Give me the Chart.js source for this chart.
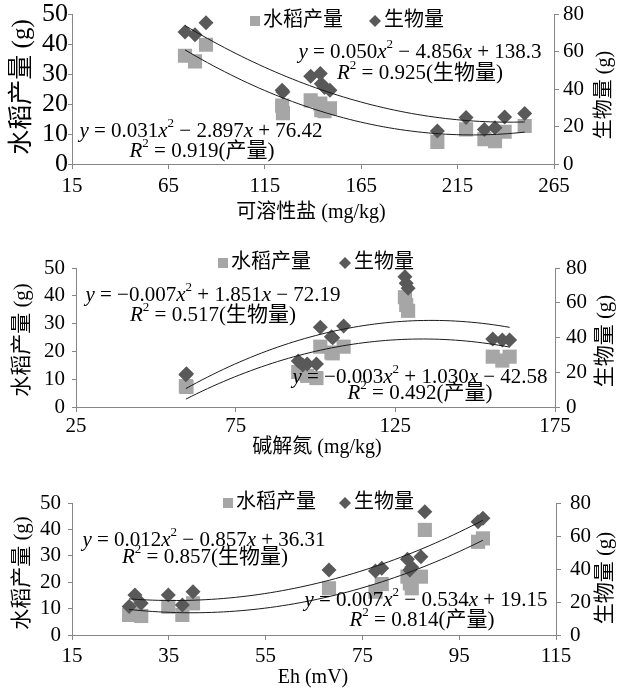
<!DOCTYPE html>
<html>
<head>
<meta charset="utf-8">
<script src="https://cdn.jsdelivr.net/npm/chart.js@4.4.1/dist/chart.umd.min.js"></script>
<style>
  body { margin: 0; background: #fff; width: 617px; height: 691px; overflow: hidden; }
  canvas { display: block; }
</style>
</head>
<body>
<canvas id="c1" width="617" height="230"></canvas>
<canvas id="c2" width="617" height="230"></canvas>
<canvas id="c3" width="617" height="231"></canvas>
<script>
// same 16 samples in every panel, some markers sit on top of each other
// panel 1 : 可溶性盐
var saltX    = [73.6, 78.8, 84.5, 124.0, 124.4, 138.8, 143.8, 144.3, 146.0, 148.8, 204.5, 219.4, 228.9, 234.4, 239.4, 249.8];
var saltRice = [36.2, 34.3, 39.9, 19.5, 17.0, 21.3, 20.2, 18.0, 17.7, 18.6, 7.4, 11.6, 8.3, 7.6, 10.8, 12.7];
var saltBio  = [70.6, 69.2, 75.6, 39.5, 38.5, 46.9, 48.4, 43.0, 41.0, 39.5, 17.6, 24.9, 18.5, 19.4, 25.2, 27.0];
var saltTicks = [15, 65, 115, 165, 215, 265];

// panel 2 : 碱解氮
var nX    = [59.4, 59.6, 94.6, 96.0, 97.4, 100.3, 101.5, 105.0, 105.4, 108.8, 128.0, 128.4, 129.0, 155.5, 158.5, 160.8];
var nRice = [7.5, 7.2, 12.6, 12.0, 11.2, 10.4, 21.7, 19.6, 19.3, 21.7, 39.5, 36.7, 34.6, 18.1, 16.7, 18.1];
var nBio  = [18.5, 19.2, 26.5, 24.2, 24.7, 24.7, 45.9, 40.4, 39.9, 46.6, 75.0, 71.2, 68.3, 39.1, 38.6, 38.6];
var nTicks = [25, 75, 125, 175];

// panel 3 : Eh
var ehX    = [26.8, 28.0, 29.3, 34.9, 37.8, 40.0, 68.1, 77.7, 79.0, 84.3, 84.8, 85.2, 87.1, 87.9, 98.9, 99.9];
var ehRice = [7.6, 10.0, 7.2, 10.7, 7.6, 12.0, 17.7, 16.4, 19.3, 22.1, 19.6, 17.7, 22.1, 39.8, 35.3, 36.6];
var ehBio  = [17.2, 24.2, 19.2, 24.2, 18.2, 26.2, 39.4, 38.8, 40.4, 45.9, 39.4, 41.0, 47.5, 74.7, 68.7, 70.7];
var ehTicks = [15, 35, 55, 75, 95, 115];

var riceTicks = [0, 10, 20, 30, 40, 50];
var bioTicks  = [0, 20, 40, 60, 80];

var SERIF = "'Liberation Serif', 'Noto Sans CJK SC', serif";
var RICE_COLOR = '#a6a6a6';
var BIO_COLOR  = '#595959';

// least squares 2nd order polynomial, like the Excel trendline
function quadFit(xs, ys) {
  var n = xs.length, mx = 0;
  for (var i = 0; i < n; i++) mx += xs[i];
  mx /= n;
  var s = [0, 0, 0, 0, 0], t = [0, 0, 0];
  for (var i = 0; i < n; i++) {
    var u = xs[i] - mx, p = 1;
    for (var k = 0; k < 5; k++) {
      s[k] += p;
      if (k < 3) t[k] += p * ys[i];
      p *= u;
    }
  }
  var m = [[s[0], s[1], s[2], t[0]], [s[1], s[2], s[3], t[1]], [s[2], s[3], s[4], t[2]]];
  for (var c = 0; c < 3; c++) {
    for (var r = c + 1; r < 3; r++) {
      var f = m[r][c] / m[c][c];
      for (var k = c; k < 4; k++) m[r][k] -= f * m[c][k];
    }
  }
  var a = [0, 0, 0];
  for (var r = 2; r >= 0; r--) {
    var v = m[r][3];
    for (var k = r + 1; k < 3; k++) v -= m[r][k] * a[k];
    a[r] = v / m[r][r];
  }
  return function(x) { var u = x - mx; return a[0] + a[1] * u + a[2] * u * u; };
}

function trend(xs, ys) {
  var f = quadFit(xs, ys);
  var lo = Math.min.apply(null, xs), hi = Math.max.apply(null, xs);
  var out = [];
  for (var i = 0; i <= 60; i++) {
    var x = lo + (hi - lo) * i / 60;
    out.push({ x: x, y: f(x) });
  }
  return out;
}

function pts(xs, ys) {
  return xs.map(function(x, i) { return { x: x, y: ys[i] }; });
}

// equation text: x, y, R italic, ² raised
function drawEq(ctx, str, cx, cy, size) {
  var runs = [];
  for (var ch of str) {
    var st = 'n';
    if (ch === 'x' || ch === 'y' || ch === 'R') st = 'i';
    if (ch === '²') { st = 's'; ch = '2'; }
    if (runs.length && runs[runs.length - 1].st === st) runs[runs.length - 1].t += ch;
    else runs.push({ st: st, t: ch });
  }
  function font(st) {
    if (st === 'i') return 'italic ' + size + 'px ' + SERIF;
    if (st === 's') return Math.round(size * 0.62) + 'px ' + SERIF;
    return size + 'px ' + SERIF;
  }
  var w = 0;
  runs.forEach(function(r) { ctx.font = font(r.st); r.w = ctx.measureText(r.t).width; w += r.w; });
  var x = cx - w / 2;
  ctx.textAlign = 'left';
  ctx.textBaseline = 'middle';
  runs.forEach(function(r) {
    ctx.font = font(r.st);
    ctx.fillText(r.t, x, r.st === 's' ? cy - size * 0.33 : cy);
    x += r.w;
  });
}

function textPlugin(p) {
  return {
    id: 'texts',
    afterDatasetsDraw: function(chart) {
      var ctx = chart.ctx;
      ctx.save();
      // legend
      var L = p.legend;
      ctx.fillStyle = RICE_COLOR;
      ctx.fillRect(L.sq - 5, L.y - 5, 10, 10);
      ctx.fillStyle = BIO_COLOR;
      ctx.beginPath();
      ctx.moveTo(L.dm - 6, L.y); ctx.lineTo(L.dm, L.y - 6); ctx.lineTo(L.dm + 6, L.y); ctx.lineTo(L.dm, L.y + 6);
      ctx.closePath(); ctx.fill();
      ctx.fillStyle = '#000';
      ctx.font = '20px ' + SERIF;
      ctx.textAlign = 'left';
      ctx.textBaseline = 'middle';
      ctx.fillText('水稻产量', L.sq + 8, L.y);
      ctx.fillText('生物量', L.dm + 9, L.y);
      // trendline labels
      p.eqs.forEach(function(e) { drawEq(ctx, e[0], e[1], e[2], 21); });
      // axis titles
      ctx.textAlign = 'center';
      ctx.textBaseline = 'middle';
      ctx.font = '20px ' + SERIF;
      ctx.fillText(p.xTitle[0], p.xTitle[1], p.xTitle[2]);
      [p.yTitle, p.y1Title].forEach(function(t) {
        ctx.save();
        ctx.translate(t[1], t[2]);
        ctx.rotate(-Math.PI / 2);
        ctx.font = t[3] + 'px ' + SERIF;
        ctx.fillText(t[0], 0, 0);
        ctx.restore();
      });
      ctx.restore();
    }
  };
}

function buildChart(p) {
  var tickList = function(list) {
    return function(s) { s.ticks = list.map(function(v) { return { value: v }; }); };
  };
  var axisColor = '#868686';
  return new Chart(document.getElementById(p.id), {
    type: 'scatter',
    data: {
      datasets: [
        { label: 'trendRice', type: 'line', data: trend(p.x, p.rice), yAxisID: 'y',
          borderColor: '#1a1a1a', borderWidth: 1, pointRadius: 0, fill: false, order: 0 },
        { label: 'trendBio', type: 'line', data: trend(p.x, p.bio), yAxisID: 'y1',
          borderColor: '#1a1a1a', borderWidth: 1, pointRadius: 0, fill: false, order: 0 },
        { label: '生物量', data: pts(p.x, p.bio), yAxisID: 'y1', pointStyle: 'rectRot',
          pointRadius: 7.5, backgroundColor: BIO_COLOR, borderWidth: 0, order: 1 },
        { label: '水稻产量', data: pts(p.x, p.rice), yAxisID: 'y', pointStyle: 'rect',
          pointRadius: 10, backgroundColor: RICE_COLOR, borderWidth: 0, order: 2 }
      ]
    },
    options: {
      responsive: false,
      animation: false,
      events: [],
      layout: { padding: { top: p.top, left: 0, right: 0, bottom: 0 } },
      plugins: { legend: { display: false }, tooltip: { enabled: false } },
      scales: {
        x: {
          type: 'linear', min: p.xMin, max: p.xMax,
          afterBuildTicks: tickList(p.xTicks),
          afterFit: function(s) { s.height = p.xh; },
          grid: { drawOnChartArea: false, tickLength: 5, color: axisColor },
          border: { color: axisColor },
          ticks: { autoSkip: false, maxRotation: 0, padding: p.xPad, color: '#000',
                   font: { family: SERIF, size: 21, lineHeight: 1.2 } }
        },
        y: {
          position: 'left', min: 0, max: 50,
          afterBuildTicks: tickList(riceTicks),
          afterFit: function(s) { s.width = p.leftW; },
          grid: { drawOnChartArea: false, tickLength: 4, color: axisColor },
          border: { color: axisColor },
          ticks: { autoSkip: false, padding: p.leftPad, color: '#000',
                   font: { family: SERIF, size: p.leftFont, lineHeight: 1 } }
        },
        y1: {
          position: 'right', min: 0, max: 80,
          afterBuildTicks: tickList(bioTicks),
          afterFit: function(s) { s.width = p.rightW; },
          grid: { drawOnChartArea: false, tickLength: 5, color: axisColor },
          border: { color: axisColor },
          ticks: { autoSkip: false, padding: p.rightPad, color: '#000',
                   font: { family: SERIF, size: 21, lineHeight: 1 } }
        }
      }
    },
    plugins: [textPlugin(p)]
  });
}

buildChart({
  id: 'c1', x: saltX, rice: saltRice, bio: saltBio, xMin: 15, xMax: 265, xTicks: saltTicks,
  top: 14, xh: 66, leftW: 72, rightW: 63, leftFont: 26, leftPad: 0, rightPad: 4, xPad: 5,
  legend: { y: 21, sq: 255, dm: 375 },
  eqs: [
    ['y = 0.050x² − 4.856x + 138.3', 420, 52],
    ['R² = 0.925(生物量)', 420, 73],
    ['y = 0.031x² − 2.897x + 76.42', 201, 131],
    ['R² = 0.919(产量)', 202, 151]
  ],
  xTitle: ['可溶性盐 (mg/kg)', 311, 213],
  yTitle: ['水稻产量 (g)', 22, 87, 25],
  y1Title: ['生物量 (g)', 605, 95, 20]
});

buildChart({
  id: 'c2', x: nX, rice: nRice, bio: nBio, xMin: 25, xMax: 175, xTicks: nTicks,
  top: 38, xh: 53, leftW: 76, rightW: 62, leftFont: 21, leftPad: 7, rightPad: 6, xPad: 2,
  legend: { y: 33, sq: 223, dm: 345 },
  eqs: [
    ['y = −0.007x² + 1.851x − 72.19', 213, 65],
    ['R² = 0.517(生物量)', 213, 85],
    ['y = −0.003x² + 1.030x − 42.58', 420, 147],
    ['R² = 0.492(产量)', 420, 163]
  ],
  xTitle: ['碱解氮 (mg/kg)', 317, 218],
  yTitle: ['水稻产量 (g)', 22, 110, 21],
  y1Title: ['生物量 (g)', 605, 111, 21]
});

buildChart({
  id: 'c3', x: ehX, rice: ehRice, bio: ehBio, xMin: 15, xMax: 115, xTicks: ehTicks,
  top: 43, xh: 56, leftW: 72, rightW: 61, leftFont: 21, leftPad: 7, rightPad: 9, xPad: 4,
  legend: { y: 43, sq: 228, dm: 345 },
  eqs: [
    ['y = 0.012x² − 0.857x + 36.31', 204, 80],
    ['R² = 0.857(生物量)', 205, 97],
    ['y = 0.007x² − 0.534x + 19.15', 426, 140],
    ['R² = 0.814(产量)', 422, 160]
  ],
  xTitle: ['Eh (mV)', 313, 218],
  yTitle: ['水稻产量 (g)', 22, 113, 21],
  y1Title: ['生物量 (g)', 605, 118, 21]
});
</script>
</body>
</html>
